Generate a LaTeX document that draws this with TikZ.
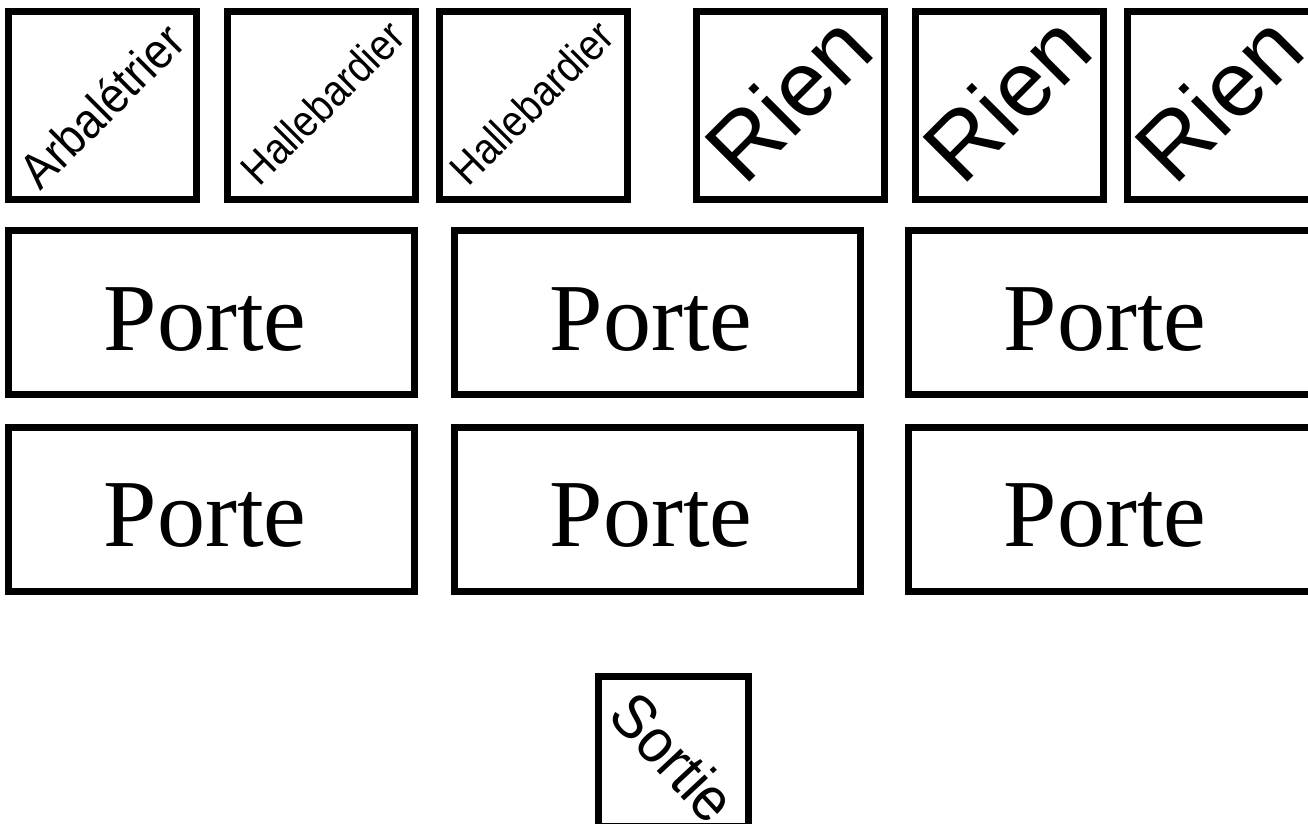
\documentclass[tikz,border=0pt]{standalone}
\usepackage{fontspec}
\setmainfont{Liberation Serif}
\setsansfont{Liberation Sans}
\begin{document}
\begin{tikzpicture}[x=1bp,y=-1bp,
  sq/.style={draw, line width=7bp, minimum width=188bp, minimum height=188bp, inner sep=0pt},
  door/.style={draw, line width=7bp, minimum width=406bp, minimum height=164bp, inner sep=0pt},
  exitbox/.style={draw, line width=7bp, minimum width=150bp, minimum height=150bp, inner sep=0pt},
  diag/.style 2 args={rotate=45, xscale=#2, inner sep=0pt, font=\sffamily\fontsize{#1}{#1}\selectfont},
  portetxt/.style={anchor=base, inner sep=0pt, font=\rmfamily\fontsize{96bp}{100bp}\selectfont}]
\useasboundingbox (0,0) rectangle (1308,823);
\clip (0,0) rectangle (1308,823);
% top row
\node[sq] (t1) at (102.5,105.5) {};
\node[sq] (t2) at (321.5,105.5) {};
\node[sq] (t3) at (533.5,105.5) {};
\node[sq] (t4) at (790,105.5) {};
\node[sq] (t5) at (1009.5,105.5) {};
\node[sq] (t6) at (1221.5,105.5) {};
\node[diag={50bp}{0.9}] (l1) at ([xshift=-1bp]t1.center) {Arbalétrier};
\node[diag={44bp}{0.88}] (l2) at ([xshift=1bp,yshift=3bp]t2.center) {Hallebardier};
\node[diag={44bp}{0.88}] (l3) at ([xshift=-2bp,yshift=3bp]t3.center) {Hallebardier};
\node[diag={92bp}{1}] (l4) at ([xshift=-2bp,yshift=8bp]t4.center) {Rien};
\node[diag={92bp}{1}] (l5) at ([xshift=-3bp,yshift=8bp]t5.center) {Rien};
\node[diag={92bp}{1}] (l6) at ([xshift=-3bp,yshift=8bp]t6.center) {Rien};
% doors
\node[door] (d1) at (211.5,312.5) {};
\node[door] (d2) at (657.5,312.5) {};
\node[door] (d3) at (1111.5,312.5) {};
\node[door] (d4) at (211.5,509) {};
\node[door] (d5) at (657.5,509) {};
\node[door] (d6) at (1111.5,509) {};
\foreach \n in {1,...,6} {
  \node[portetxt] (pt\n) at ([xshift=-6.5bp,yshift=-37.5bp]d\n.center) {Porte};
}
% exit
\node[exitbox] (s) at (673.5,751.5) {};
\node[rotate=-47, xscale=0.92, inner sep=0pt, font=\sffamily\fontsize{62bp}{62bp}\selectfont] (sl) at ([xshift=0.5bp,yshift=-5.5bp]s.center) {Sortie};
\end{tikzpicture}
\end{document}
